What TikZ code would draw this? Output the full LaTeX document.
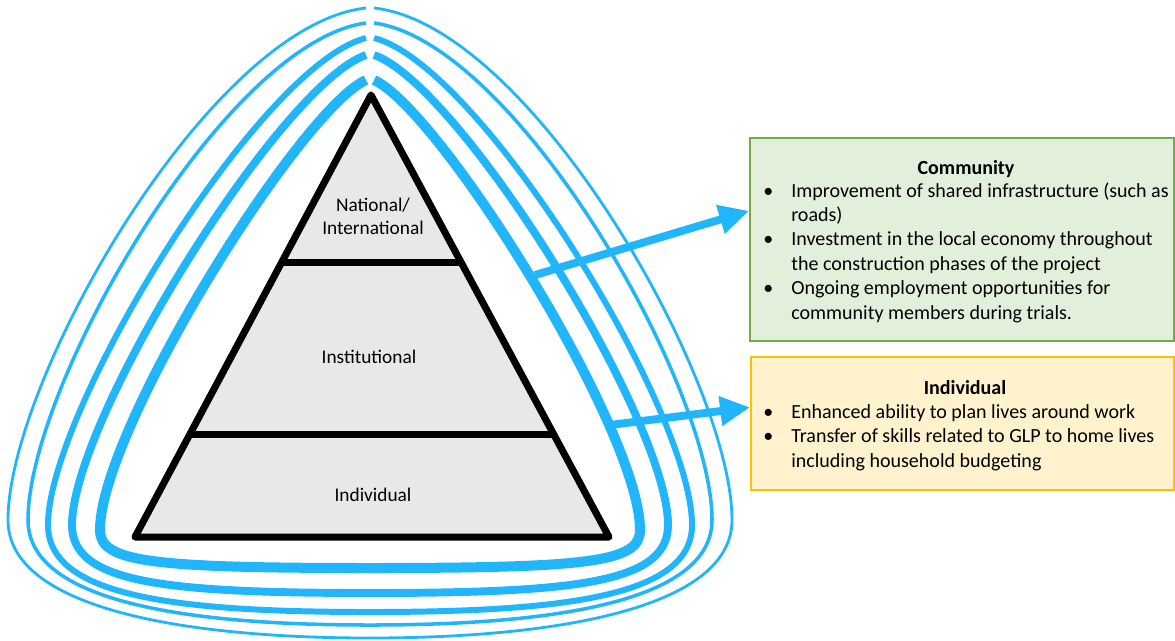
\documentclass[tikz,border=0pt]{standalone}
\usepackage{fontspec}
\setmainfont{Carlito}
\usepackage{tikz}
\usetikzlibrary{calc,positioning,arrows.meta}

\definecolor{ringblue}{RGB}{33,181,252}
\definecolor{tierfill}{RGB}{232,232,232}
\definecolor{commline}{RGB}{112,173,71}
\definecolor{commfill}{RGB}{226,239,218}
\definecolor{indline}{RGB}{255,192,0}
\definecolor{indfill}{RGB}{255,242,204}

\newcommand{\bul}{\makebox[15.9pt][l]{\textbullet}}
\newcommand{\ind}{\hspace*{15.9pt}}

\begin{document}
\begin{tikzpicture}[x=0.02cm, y=-0.02cm,
    ring/.style={ringblue},
    tier/.style={draw=black, line width=4pt, line join=round},
    tierlabel/.style={font=\fontsize{11}{13.2}\selectfont, align=center},
    boxtitle/.style={font=\fontsize{11.4}{13.8}\selectfont\bfseries},
    boxbody/.style={font=\fontsize{11.4}{13.9}\selectfont, align=left, inner sep=0pt, anchor=north west},
    bigarrow/.style={ringblue, line width=4.5pt, -{Triangle[length=17pt,width=16pt]}}]
  \useasboundingbox (0,0) rectangle (1175,640);

  % rings round the pyramid
  \begin{scope}[shift={(370,0)}]
    \foreach \t/\a/\b/\c/\w/\m/\d/\e/\bb/\lw in {8/160/17/380/362/520/610/180/638/1.6pt,
        23/145/19/385/342/520/600/190/625/2pt,
        38/110/27/410/322/525/595/200/612/3.4pt,
        55/90/30/420/298/525/582/210/593/4.5pt,
        80/70/30/430/270/530/562/220/568/5.7pt}
      {
        \draw[ring, line width=\lw] (-4,\t) .. controls (-\a,\t+\b) and (-\w,\c) .. (-\w,\m)
          .. controls (-\w,\d) and (-\e,\bb) .. (0,\bb)
          .. controls (\e,\bb) and (\w,\d) .. (\w,\m)
          .. controls (\w,\c) and (\a,\t+\b) .. (4,\t);
      }
  \end{scope}

  % pyramid
  \coordinate (apex) at (371,95);
  \coordinate (bl) at (135,537);
  \coordinate (br) at (609,537);
  \fill[tierfill] (apex) -- (bl) -- (br) -- cycle;
  \draw[tier] ($(apex)!0.38!(bl)$) -- ($(apex)!0.38!(br)$);
  \draw[tier] ($(apex)!0.767!(bl)$) -- ($(apex)!0.767!(br)$);
  \draw[tier] (apex) -- (bl) -- (br) -- cycle;
  \node[tierlabel] (natl) at (373,216) {National/\\International};
  \node[tierlabel] (inst) at (369,357) {Institutional};
  \node[tierlabel] (indv) at (373,495) {Individual};

  % boxes
  \node[draw=commline, fill=commfill, line width=1.2pt, minimum width=8.48cm, minimum height=4.06cm,
    anchor=north west, inner sep=0pt] (comm) at (749,137) {};
  \node[boxtitle] (comm-title) at (966,169) {Community};
  \node[boxbody] (comm-body) at (763,182) {\bul Improvement of shared infrastructure (such as\\
    \ind roads)\\
    \bul Investment in the local economy throughout\\
    \ind the construction phases of the project\\
    \bul Ongoing employment opportunities for\\
    \ind community members during trials.};

  \node[draw=indline, fill=indfill, line width=1.2pt, minimum width=8.46cm, minimum height=2.66cm,
    anchor=north west, inner sep=0pt] (ind) at (750,356) {};
  \node[boxtitle] (ind-title) at (965,388) {Individual};
  \node[boxbody] (ind-body) at (763,404) {\bul Enhanced ability to plan lives around work\\
    \bul Transfer of skills related to GLP to home lives\\
    \ind including household budgeting};

  % arrows
  \coordinate (comm-from) at (535,275);
  \coordinate (ind-from) at (610,425);
  \draw[bigarrow] (comm-from) -- ($(comm.north west)!0.36!(comm.south west)$);
  \draw[bigarrow] (ind-from) -- ($(ind.north west)!0.38!(ind.south west)$);
\end{tikzpicture}
\end{document}
